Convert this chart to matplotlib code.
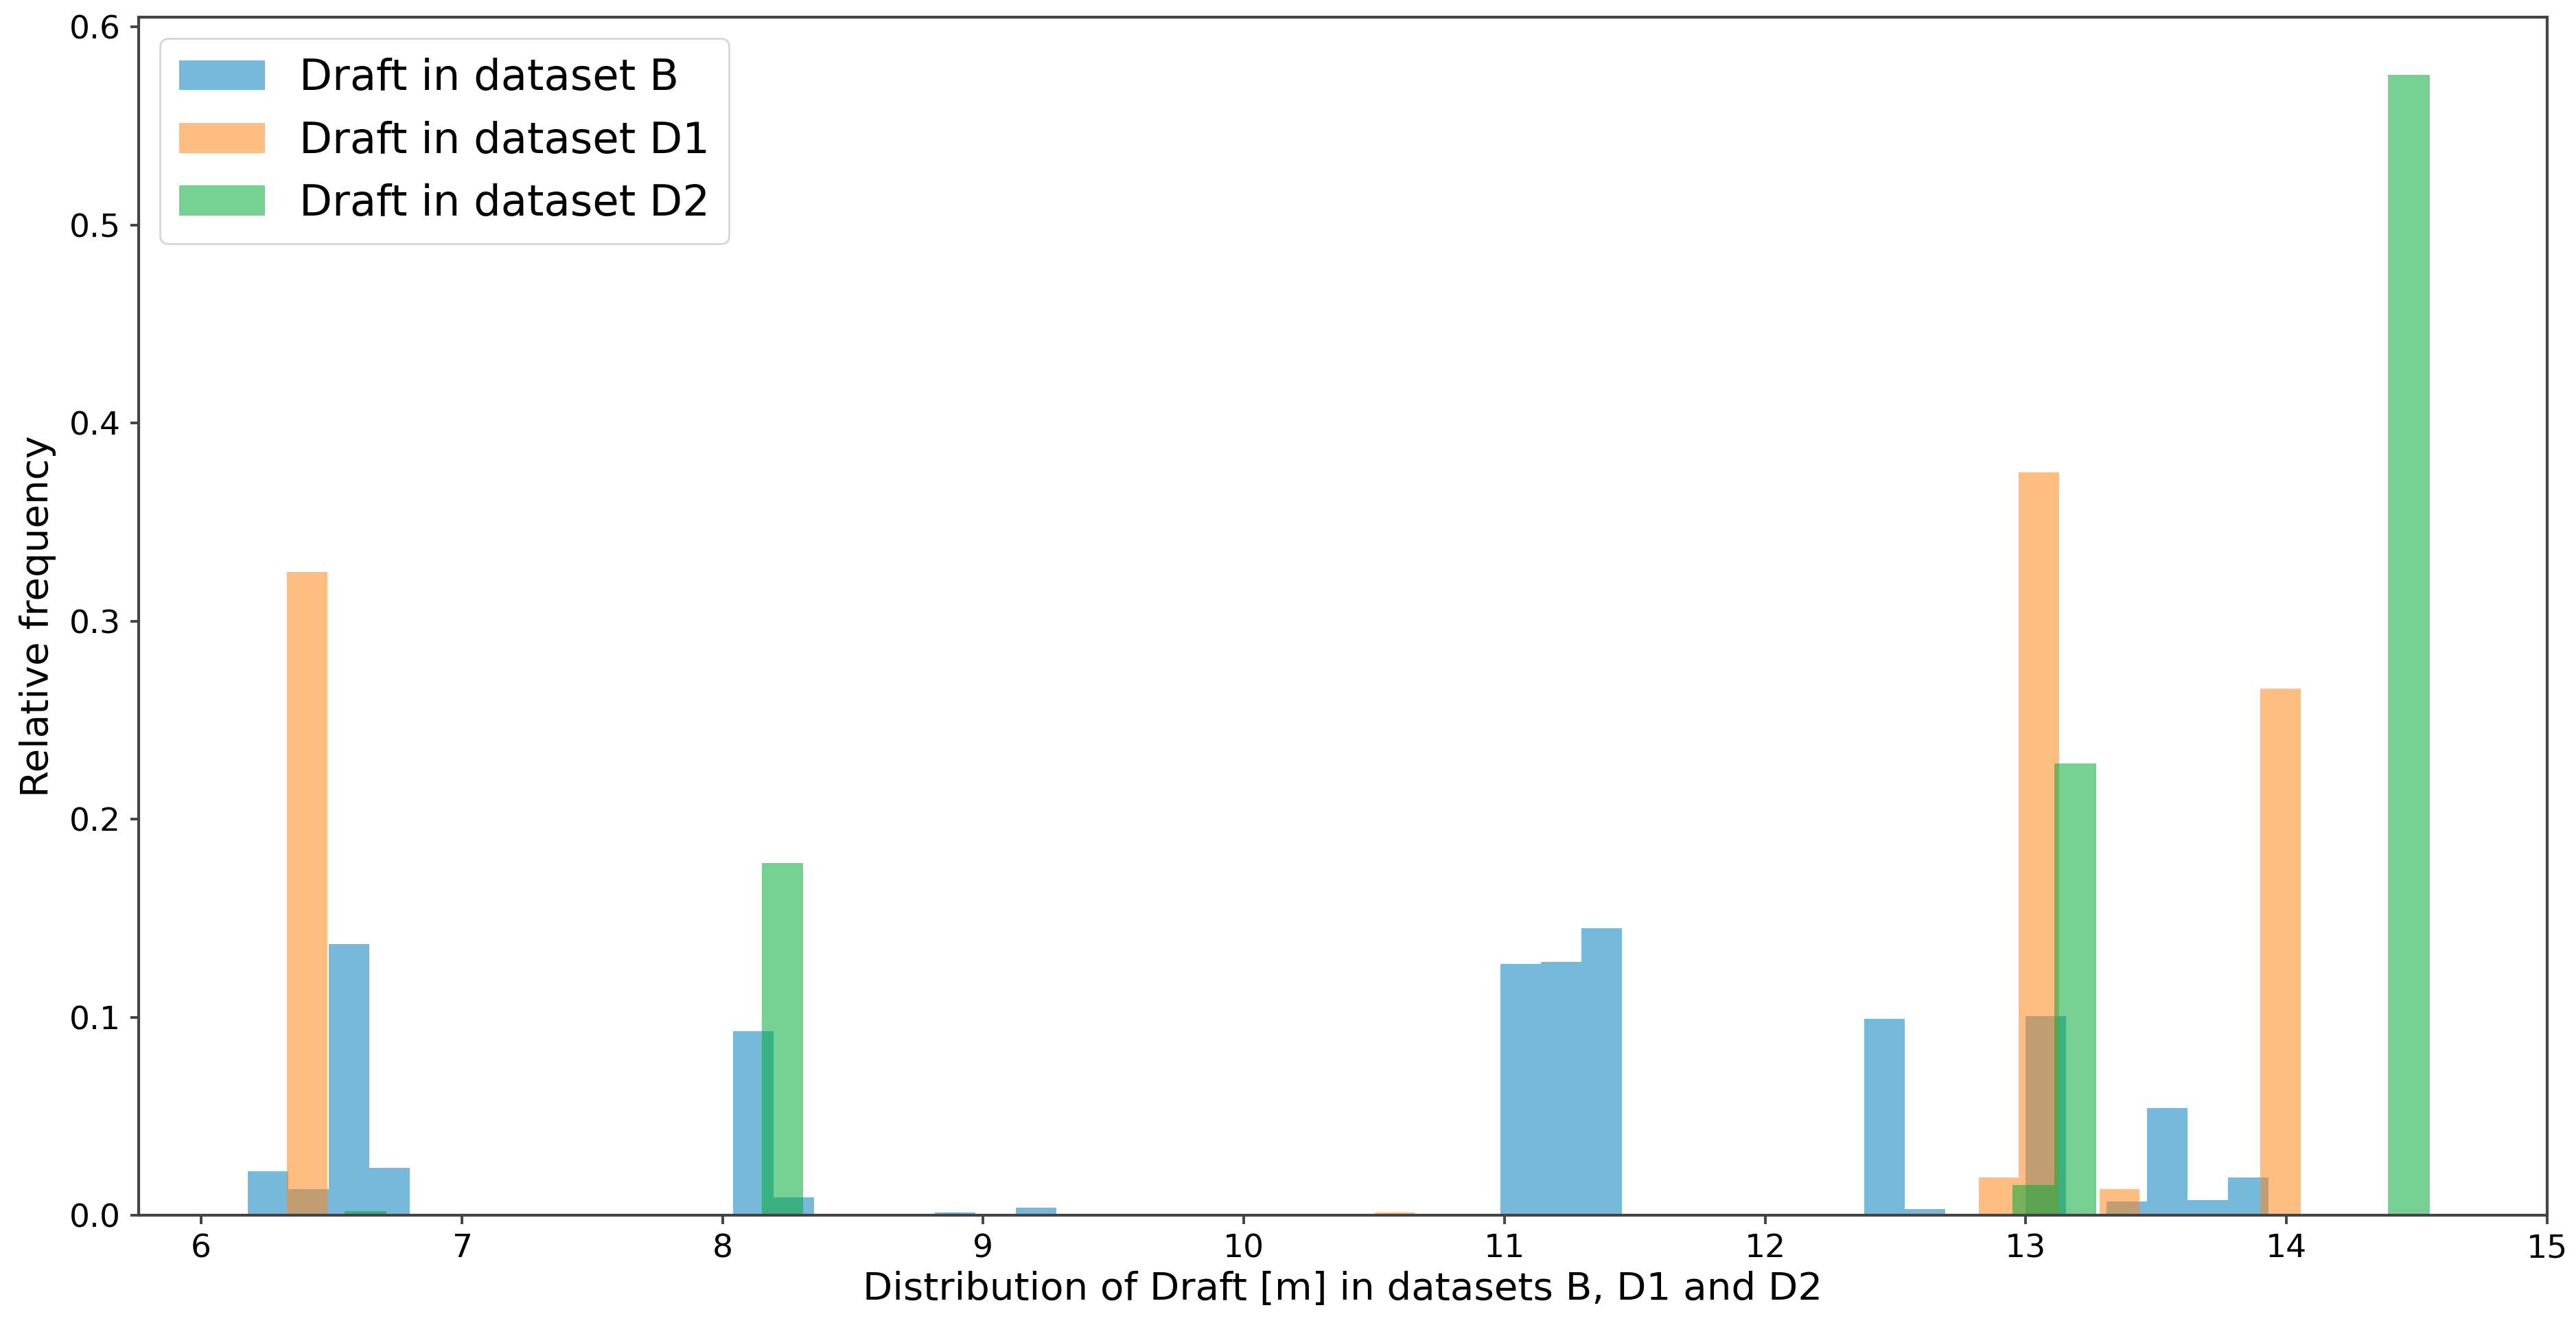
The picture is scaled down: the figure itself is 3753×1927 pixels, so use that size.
import numpy as np
import matplotlib
matplotlib.use("Agg")
import matplotlib.pyplot as plt

# histogram bins: (first edge, last edge, number of bins) per dataset
b_range = (6.18, 13.93, 50)
d1_range = (6.33, 14.055, 50)
d2_range = (6.55, 14.55, 50)

# non-empty bins (index) and their relative frequency
b_bins = [0, 1, 2, 3, 12, 13, 17, 19, 31, 32, 33, 40, 41, 44, 46, 47, 48, 49]
b_freq = [0.022, 0.013, 0.137, 0.024, 0.093, 0.009, 0.0012, 0.0037, 0.127,
          0.128, 0.145, 0.099, 0.003, 0.1005, 0.007, 0.054, 0.0076, 0.019]

d1_bins = [0, 27, 42, 43, 45, 49]
d1_freq = [0.325, 0.0015, 0.019, 0.375, 0.013, 0.266]

d2_bins = [0, 10, 40, 41, 49]
d2_freq = [0.002, 0.178, 0.0154, 0.228, 0.576]

labels = ["Draft in dataset B", "Draft in dataset D1", "Draft in dataset D2"]
colors = ["#0880be", "#ff871c", "#06aa39"]


def freq_table(rng, bins, freq):
    edges = np.linspace(rng[0], rng[1], rng[2] + 1)
    h = np.zeros(rng[2])
    h[bins] = freq
    return edges, h


fig = plt.figure(figsize=(37.53, 19.27), dpi=100)
ax = fig.add_axes([0.0538, 0.0815, 0.935, 0.9055])

for rng, bins, freq, lab, col in zip(
    [b_range, d1_range, d2_range],
    [b_bins, d1_bins, d2_bins],
    [b_freq, d1_freq, d2_freq],
    labels,
    colors,
):
    edges, h = freq_table(rng, bins, freq)
    ax.hist(edges[:-1], bins=edges, weights=h, color=col, alpha=0.55, label=lab)

ax.set_xlim(5.76, 15.0)
ax.set_ylim(0, 0.605)
ax.set_xticks(range(6, 16))
ax.set_yticks([0.0, 0.1, 0.2, 0.3, 0.4, 0.5, 0.6])

for sp in ax.spines.values():
    sp.set_linewidth(3.0)
    sp.set_color("#444444")
ax.tick_params(labelsize=34, length=9, width=2.8, color="#444444", pad=10)

ax.set_xlabel("Distribution of Draft [m] in datasets B, D1 and D2", fontsize=40.5, labelpad=7)
ax.set_ylabel("Relative frequency", fontsize=40.5, labelpad=13)

leg = ax.legend(loc="upper left", fontsize=45, borderpad=0.45, labelspacing=0.5,
                handlelength=2.0, handletextpad=0.8)
leg.get_frame().set_linewidth(2)

fig.savefig("out.png", dpi=100)
